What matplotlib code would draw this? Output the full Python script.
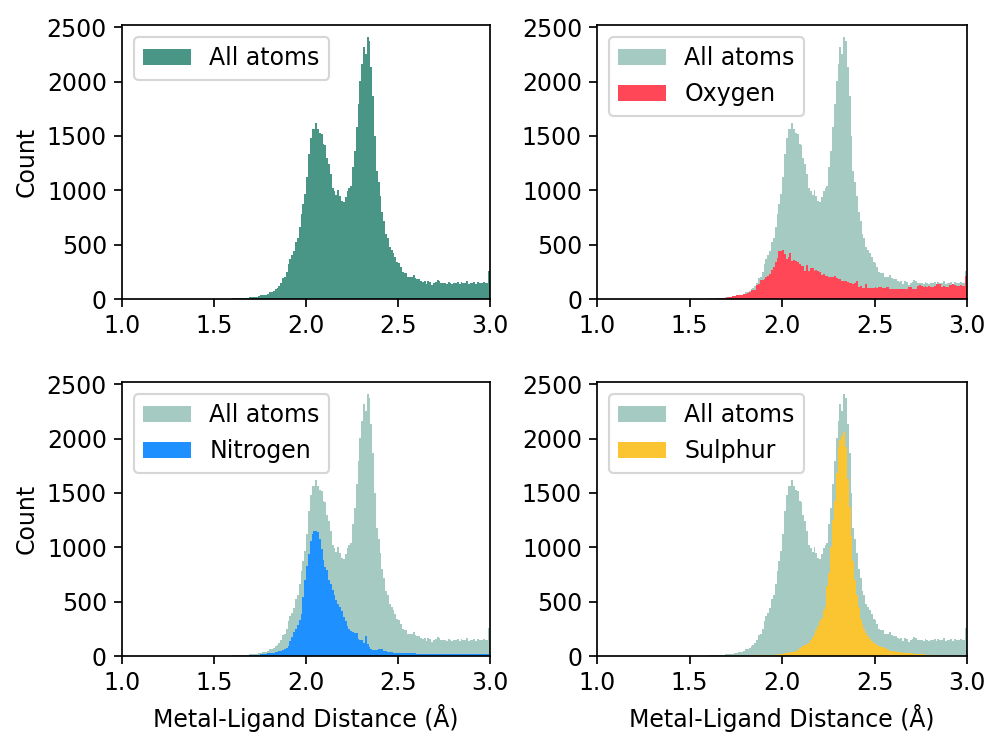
import numpy as np
import matplotlib
matplotlib.use("Agg")
import matplotlib.pyplot as plt

# bin counts, 0.01 A bins from 1.50 to 3.00 (nothing below 1.50)
all_atoms = [
    1, 1, 2, 2, 2, 3, 3, 3, 4, 4,
    5, 6, 5, 7, 8, 9, 10, 11, 12, 14,
    15, 16, 18, 22, 26, 32, 34, 36, 40, 46,
    60, 68, 74, 90, 104, 120, 150, 195, 205, 250,
    320, 370, 400, 445, 520, 560, 665, 780, 870, 965,
    1120, 1330, 1485, 1560, 1560, 1620, 1565, 1530, 1515, 1425,
    1420, 1300, 1240, 1150, 1025, 995, 960, 1000, 950, 905,
    890, 935, 995, 1025, 1040, 1210, 1365, 1580, 1790, 2005,
    2160, 2315, 2250, 2410, 2370, 2130, 1870, 1500, 1180, 1080,
    950, 800, 720, 600, 565, 480, 450, 420, 385, 340,
    328, 290, 245, 236, 238, 200, 198, 205, 224, 190,
    181, 184, 162, 153, 168, 138, 168, 153, 132, 144,
    153, 178, 162, 150, 148, 145, 142, 160, 150, 138,
    145, 150, 152, 140, 158, 145, 150, 162, 140, 148,
    150, 160, 142, 155, 150, 145, 158, 150, 148, 260,
]
oxygen = [
    0, 0, 0, 0, 0, 0, 0, 0, 1, 1,
    3, 4, 2, 3, 4, 5, 6, 8, 10, 12,
    15, 18, 22, 25, 28, 32, 36, 38, 40, 42,
    45, 58, 65, 78, 82, 85, 128, 135, 170, 178,
    185, 200, 214, 230, 266, 297, 337, 377, 440, 445,
    453, 413, 368, 383, 420, 352, 358, 352, 337, 322,
    306, 306, 254, 315, 260, 285, 285, 260, 262, 254,
    245, 224, 230, 214, 214, 205, 205, 205, 214, 193,
    184, 184, 162, 162, 165, 160, 144, 146, 142, 144,
    162, 113, 115, 101, 104, 138, 101, 104, 98, 101,
    107, 105, 109, 107, 101, 99, 113, 111, 92, 95,
    92, 96, 90, 92, 94, 90, 93, 92, 113, 110,
    95, 88, 92, 118, 125, 120, 108, 115, 110, 118,
    113, 110, 115, 138, 135, 138, 113, 116, 110, 113,
    132, 130, 134, 125, 122, 120, 124, 122, 120, 214,
]
nitrogen = [
    0, 0, 0, 0, 0, 0, 1, 1, 1, 1,
    1, 2, 2, 2, 3, 3, 3, 4, 4, 5,
    6, 7, 8, 10, 12, 15, 18, 20, 22, 25,
    28, 30, 32, 35, 38, 42, 48, 52, 60, 72,
    95, 140, 175, 220, 250, 285, 330, 390, 545, 700,
    830, 940, 1060, 1120, 1150, 1150, 1140, 1080, 980, 880,
    820, 790, 700, 660, 610, 560, 515, 480, 455, 410,
    360, 320, 275, 250, 230, 222, 214, 208, 155, 148,
    145, 116, 184, 110, 86, 64, 55, 55, 56, 60,
    61, 60, 50, 48, 40, 40, 38, 32, 30, 30,
    26, 25, 24, 26, 25, 24, 25, 26, 30, 31,
    20, 18, 19, 18, 17, 18, 19, 18, 17, 18,
    18, 17, 18, 19, 18, 17, 18, 18, 17, 18,
    18, 19, 17, 18, 18, 17, 18, 19, 18, 17,
    18, 18, 19, 18, 20, 18, 19, 18, 20, 22,
]
sulphur = [
    0, 0, 0, 0, 0, 0, 0, 0, 0, 0,
    0, 0, 0, 0, 0, 0, 1, 1, 1, 1,
    1, 1, 2, 2, 2, 2, 3, 3, 3, 3,
    3, 4, 4, 4, 5, 5, 5, 6, 6, 6,
    6, 7, 8, 9, 10, 11, 12, 14, 16, 18,
    22, 25, 28, 30, 35, 38, 40, 45, 55, 70,
    85, 95, 100, 110, 120, 145, 175, 200, 240, 275,
    320, 345, 420, 460, 640, 760, 1000, 1250, 1430, 1680,
    1920, 1985, 2020, 2060, 1920, 1630, 1370, 1100, 870, 700,
    560, 450, 340, 290, 250, 210, 180, 160, 140, 120,
    110, 100, 90, 85, 80, 70, 60, 55, 50, 45,
    42, 40, 38, 35, 33, 31, 30, 28, 27, 25,
    24, 22, 20, 19, 18, 16, 14, 12, 10, 9,
    8, 7, 6, 5, 5, 4, 4, 3, 3, 3,
    3, 2, 2, 2, 2, 1, 1, 1, 1, 1,
]

edges = np.linspace(1.5, 3.0, len(all_atoms) + 1)
teal = '#4a9686'

plt.rcParams['font.size'] = 11
fig = plt.figure(figsize=(6.4, 4.732), dpi=154.7)
W, H = 990, 732
boxes = [(122, 25, 490, 299), (597, 25, 967, 299),
         (122, 382, 490, 656), (597, 382, 967, 656)]
axes = [fig.add_axes([l / W, 1 - b / H, (r - l) / W, (b - t) / H]) for l, t, r, b in boxes]

axes[0].hist(edges[:-1], bins=edges, weights=all_atoms, color=teal, label='All atoms')
subsets = [(oxygen, '#ff4757', 'Oxygen'),
           (nitrogen, '#1e90ff', 'Nitrogen'),
           (sulphur, '#fbc531', 'Sulphur')]
for ax, (vals, col, name) in zip(axes[1:], subsets):
    ax.hist(edges[:-1], bins=edges, weights=all_atoms, color=teal, alpha=0.5, label='All atoms')
    ax.hist(edges[:-1], bins=edges, weights=vals, color=col, label=name)

for i, ax in enumerate(axes):
    ax.set_xlim(1.0, 3.0)
    ax.set_ylim(0, 2520)
    ax.set_xticks([1.0, 1.5, 2.0, 2.5, 3.0])
    ax.set_yticks([0, 500, 1000, 1500, 2000, 2500])
    ax.legend(loc='upper left')
    if i % 2 == 0:
        ax.set_ylabel('Count')
    if i >= 2:
        ax.set_xlabel('Metal-Ligand Distance (Å)')

fig.savefig('out.png', dpi=154.7)
